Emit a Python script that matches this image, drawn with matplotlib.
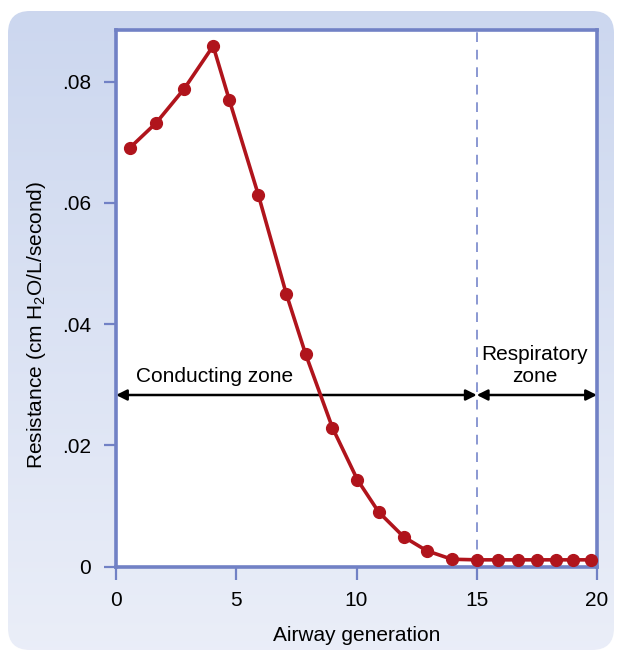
import numpy as np
import matplotlib
matplotlib.use("Agg")
import matplotlib.pyplot as plt
from matplotlib.patches import FancyBboxPatch

plt.rcParams['font.family'] = ['Liberation Sans', 'DejaVu Sans']
plt.rcParams['mathtext.fontset'] = 'custom'
plt.rcParams['mathtext.rm'] = 'Liberation Sans'

# Data
generation = [0.58, 1.67, 2.83, 4.04, 4.71, 5.92, 7.08, 7.88, 9.0, 10.04, 10.92,
              11.96, 12.92, 13.96, 15.0, 15.9, 16.7, 17.5, 18.3, 19.0, 19.75]
resistance = [0.0691, 0.0732, 0.0788, 0.0859, 0.0770, 0.0613, 0.0450, 0.0351,
              0.0229, 0.0143, 0.0090, 0.0049, 0.0026, 0.0012, 0.0011, 0.0011,
              0.0011, 0.0011, 0.0011, 0.0011, 0.0011]
xticks = [0, 5, 10, 15, 20]
yticks = [0, 0.02, 0.04, 0.06, 0.08]
ytick_labels = ['0', '.02', '.04', '.06', '.08']
zone_boundary = 15

W, H = 617, 656
fig = plt.figure(figsize=(W / 100, H / 100), dpi=100)
fig.patch.set_facecolor('white')

# Background rounded panel with vertical gradient
bg = fig.add_axes([0, 0, 1, 1], zorder=0)
bg.set_xlim(0, W)
bg.set_ylim(H, 0)
bg.axis('off')
grad = np.linspace(0, 1, 256).reshape(-1, 1)
top = np.array([0.800, 0.843, 0.937])
bot = np.array([0.918, 0.933, 0.973])
img = top[None, None, :] * (1 - grad[..., None]) + bot[None, None, :] * grad[..., None]
im = bg.imshow(img, extent=[8, 614, 650, 11], aspect='auto', zorder=0)
panel = FancyBboxPatch((8 + 22, 11 + 22), 606 - 44, 639 - 44,
                       boxstyle="round,pad=22", transform=bg.transData,
                       facecolor='none', edgecolor='none')
bg.add_patch(panel)
im.set_clip_path(panel)

spine_c = '#7181c5'
red = '#b0141c'
fs = 15

ax = fig.add_axes([116 / W, (H - 566.5) / H, (597 - 116) / W, (566.5 - 30) / H], zorder=1)
ax.set_facecolor('white')
ax.set_xlim(0, 20)
ax.set_ylim(0, (566.5 - 30) / 6060)

for s in ax.spines.values():
    s.set_color(spine_c)
    s.set_linewidth(2.6)

ax.set_xticks(xticks)
ax.set_yticks(yticks)
ax.set_yticklabels(ytick_labels)
ax.tick_params(axis='both', direction='out', length=9, width=1.6, color=spine_c,
               labelsize=fs, labelcolor='black')
ax.tick_params(axis='x', pad=9)
ax.tick_params(axis='y', pad=9)

ax.axvline(zone_boundary, color='#8a98d2', lw=1.4, ls=(0, (5, 4)), zorder=1)

ax.plot(generation, resistance, color=red, lw=2.6, marker='o', markersize=8.5,
        markerfacecolor=red, markeredgecolor=red, zorder=3, clip_on=False)

arrow_y = 0.0283
ax.annotate('', xy=(0, arrow_y), xytext=(zone_boundary, arrow_y),
            arrowprops=dict(arrowstyle='<|-|>', color='black', lw=1.8,
                            mutation_scale=16, shrinkA=0, shrinkB=0), zorder=2)
ax.annotate('', xy=(zone_boundary, arrow_y), xytext=(20, arrow_y),
            arrowprops=dict(arrowstyle='<|-|>', color='black', lw=1.8,
                            mutation_scale=16, shrinkA=0, shrinkB=0), zorder=2)
ax.text(4.1, 0.0313, 'Conducting zone', fontsize=fs, ha='center', va='center')
ax.text(17.4, 0.0331, 'Respiratory\nzone', fontsize=fs, ha='center', va='center',
        linespacing=1.2)

ax.set_xlabel('Airway generation', fontsize=fs, labelpad=11)
ax.set_ylabel('Resistance (cm H$_\\mathregular{2}$O/L/second)', fontsize=fs)
ax.yaxis.set_label_coords(-0.141, 0.45)

fig.savefig('out.png', dpi=100)
